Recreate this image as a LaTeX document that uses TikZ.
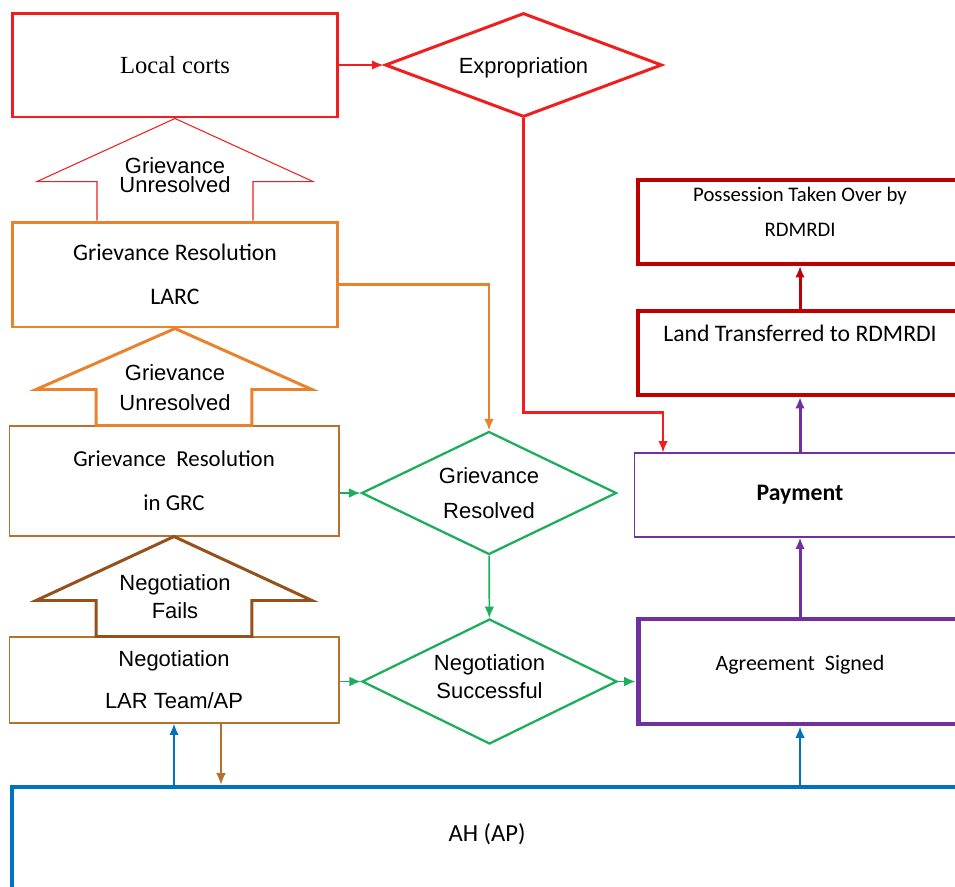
\documentclass[tikz,border=0pt]{standalone}
\usepackage{fontspec}
\setmainfont{Carlito}
\newfontfamily\arialfont{Liberation Sans}
\newfontfamily\timesfont{Liberation Serif}
\usetikzlibrary{shapes.geometric, arrows.meta}
\definecolor{cortred}{HTML}{F01E1E}
\definecolor{larcorange}{HTML}{E8822C}
\definecolor{grcbrown}{HTML}{B8702F}
\definecolor{failbrown}{HTML}{96501C}
\definecolor{okgreen}{HTML}{1DAE5C}
\definecolor{paypurple}{HTML}{7030A0}
\definecolor{landred}{HTML}{C00000}
\definecolor{ahblue}{HTML}{0070C0}

\begin{document}
\begin{tikzpicture}[x=0.02cm, y=-0.02cm, >={Latex[length=6.5pt, width=5.5pt]},
       box/.style={draw, rectangle, fill=white, align=center, inner sep=2pt, font=\fontsize{13.5}{16}\selectfont},
       decision/.style={draw, diamond, fill=white, align=center, inner sep=0pt, font=\arialfont\fontsize{12.5}{15}\selectfont},
       bigtext/.style={align=center, inner sep=0pt, font=\arialfont\fontsize{12.5}{15}\selectfont}]
       \useasboundingbox (0,0) rectangle (955,886);
       \clip (0,0) rectangle (955,886);

       % Nodes
       \node[box, draw=cortred, line width=1.7pt, minimum width=6.52cm, minimum height=2.08cm, font=\timesfont\fontsize{14}{17}\selectfont] (courts) at (175,65) {Local corts};
       \node[decision, draw=cortred, line width=1.7pt, aspect=2.66, minimum width=5.54cm, minimum height=2.08cm, text height=12pt, text depth=2pt] (expro) at (523.5,65) {Expropriation};
       \node[box, draw=larcorange, line width=1.7pt, minimum width=6.52cm, minimum height=2.1cm] (larc) at (175,274.5) {Grievance Resolution\\[9pt]LARC};
       \node[box, draw=grcbrown, line width=0.6pt, minimum width=6.6cm, minimum height=2.2cm, font=\fontsize{13}{16}\selectfont] (grc) at (174,481) {Grievance\ \ Resolution\\[9pt]in GRC};
       \node[box, draw=grcbrown, line width=0.6pt, minimum width=6.6cm, minimum height=1.72cm, font=\arialfont\fontsize{12.5}{15}\selectfont] (neg) at (174,680) {Negotiation\\[9pt]LAR Team/AP};
       \node[decision, draw=okgreen, line width=1.3pt, aspect=2.07, minimum width=5.1cm, minimum height=2.46cm] (grres) at (489,493) {Grievance\\[5pt]Resolved};
       \node[decision, draw=okgreen, line width=1.3pt, aspect=2.02, minimum width=5.1cm, minimum height=2.5cm, text depth=6pt] (negok) at (489.5,681.5) {Negotiation\\[1pt]Successful};
       \node[box, draw=landred, line width=2.3pt, minimum width=6.48cm, minimum height=1.68cm, text depth=12pt, font=\fontsize{11.8}{14}\selectfont] (poss) at (800,222) {Possession Taken Over by\\[6pt]RDMRDI};
       \node[box, draw=landred, line width=2.3pt, minimum width=6.48cm, minimum height=1.68cm, text depth=22pt] (land) at (800,353) {Land Transferred to RDMRDI};
       \node[box, draw=paypurple, line width=0.6pt, minimum width=6.64cm, minimum height=1.68cm, font=\bfseries\fontsize{13.5}{16}\selectfont] (pay) at (800,495) {Payment};
       \node[box, draw=paypurple, line width=2.8pt, minimum width=6.48cm, minimum height=2.1cm, text depth=10pt, font=\fontsize{12.5}{15}\selectfont] (agree) at (800,671.5) {Agreement\ \ Signed};
       \node[box, draw=ahblue, line width=2.3pt, minimum width=19cm, minimum height=3.86cm, text depth=57pt, font=\fontsize{14}{17}\selectfont] (ah) at (487,883) {AH (AP)};

       % Block arrows
       \draw[cortred, line width=0.6pt] ([xshift=-1.56cm]larc.north) -- ([xshift=-1.56cm, yshift=0.78cm]larc.north)
           -- ([xshift=-2.76cm, yshift=0.78cm]larc.north) -- (courts.south)
           -- ([xshift=2.76cm, yshift=0.78cm]larc.north) -- ([xshift=1.56cm, yshift=0.78cm]larc.north)
           -- ([xshift=1.56cm]larc.north);
       \draw[larcorange, line width=1.7pt, fill=white] ([xshift=-1.56cm]grc.north) -- ([xshift=-1.56cm, yshift=0.72cm]grc.north)
           -- ([xshift=-2.76cm, yshift=0.72cm]grc.north) -- (larc.south)
           -- ([xshift=2.76cm, yshift=0.72cm]grc.north) -- ([xshift=1.56cm, yshift=0.72cm]grc.north)
           -- ([xshift=1.56cm]grc.north) -- cycle;
       \draw[failbrown, line width=1.7pt, fill=white] ([xshift=-1.56cm]neg.north) -- ([xshift=-1.56cm, yshift=0.72cm]neg.north)
           -- ([xshift=-2.76cm, yshift=0.72cm]neg.north) -- (grc.south)
           -- ([xshift=2.76cm, yshift=0.72cm]neg.north) -- ([xshift=1.56cm, yshift=0.72cm]neg.north)
           -- ([xshift=1.56cm]neg.north) -- cycle;
       \node[bigtext, font=\arialfont\fontsize{12.5}{11}\selectfont] (unres1) at (175,175) {Grievance\\Unresolved};
       \node[bigtext] (unres2) at (175,388) {Grievance\\[2pt]Unresolved};
       \node[bigtext] (fails) at (175,597) {Negotiation\\[1pt]Fails};

       % Arrows
       \draw[->, cortred, line width=1.7pt] (courts) -- (expro);
       \draw[->, cortred, line width=1.2pt] (expro.south) -- ++(0,294) -| ([xshift=-2.74cm]pay.north);
       \draw[->, larcorange, line width=1.2pt] ([yshift=-0.2cm]larc.east) -| (grres.north);
       \draw[->, okgreen, line width=0.9pt] (grc.east |- grres) -- (grres.west);
       \draw[->, okgreen, line width=0.9pt] (grres) -- (negok);
       \draw[->, okgreen, line width=0.9pt] (neg.east |- negok) -- (negok.west);
       \draw[->, okgreen, line width=0.9pt] (negok) -- (negok -| agree.west);
       \draw[->, paypurple, line width=1.7pt] (agree) -- (pay);
       \draw[->, paypurple, line width=1.7pt] (pay) -- (land);
       \draw[->, landred, line width=1.7pt] (land) -- (poss);
       \draw[->, ahblue, line width=1.2pt] (ah.north -| neg.south) -- (neg.south);
       \draw[->, grcbrown, line width=0.6pt] ([xshift=0.94cm]neg.south) -- ([xshift=0.94cm]neg.south |- ah.north);
       \draw[->, ahblue, line width=1.2pt] (ah.north -| agree.south) -- (agree.south);
\end{tikzpicture}
\end{document}
